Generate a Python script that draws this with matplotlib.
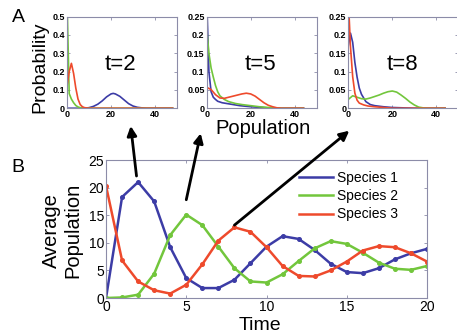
import matplotlib
matplotlib.use("Agg")
import matplotlib.pyplot as plt

plt.rcParams['font.family'] = ['Liberation Sans', 'DejaVu Sans']

# colours of the three species
c1 = '#3c3ca6'
c2 = '#72c63c'
c3 = '#ee4a2c'
spine_col = '#8c8ca8'

# bottom panel: average population over time
time = list(range(21))
s1 = [0, 18.3, 21.0, 17.5, 9.2, 3.6, 1.8, 1.8, 3.3, 6.3, 9.3, 11.2, 10.7, 8.7, 6.2, 4.7, 4.5, 5.4, 7.0, 8.1, 8.9]
s2 = [0, 0.1, 0.6, 4.4, 11.4, 15.1, 13.2, 9.3, 5.4, 3.0, 2.8, 4.3, 6.7, 9.0, 10.3, 9.8, 8.2, 6.4, 5.3, 5.1, 5.8]
s3 = [20.3, 6.8, 3.0, 1.4, 0.8, 2.4, 6.1, 10.4, 12.8, 12.0, 9.2, 5.8, 4.0, 3.9, 5.0, 6.6, 8.6, 9.4, 9.2, 8.1, 6.6]
labels = ['Species 1', 'Species 2', 'Species 3']

# top panels: population distributions at t=2, 5, 8
# t=2
p2_x1 = [0, 4, 8, 10, 12, 14, 16, 18, 20, 21, 22, 24, 26, 28, 30, 32, 34, 36, 48]
p2_y1 = [0, 0, 0, 0.003, 0.01, 0.022, 0.04, 0.062, 0.078, 0.081, 0.078, 0.065, 0.045, 0.025, 0.012, 0.005, 0.002, 0, 0]
p2_x2 = [0, 1, 2, 3, 4, 5, 6, 8, 48]
p2_y2 = [0.6, 0.08, 0.05, 0.03, 0.015, 0.007, 0.003, 0, 0]
p2_x3 = [0, 1, 2, 3, 4, 5, 6, 7, 8, 10, 48]
p2_y3 = [0.12, 0.2, 0.245, 0.19, 0.11, 0.05, 0.02, 0.008, 0.003, 0, 0]
# t=5
p5_x1 = [0, 1, 2, 3, 4, 5, 7, 10, 15, 20, 25, 30, 44]
p5_y1 = [0.3, 0.1, 0.045, 0.03, 0.024, 0.019, 0.015, 0.012, 0.007, 0.004, 0.002, 0, 0]
p5_x2 = [0, 1, 2, 3, 4, 5, 6, 8, 10, 13, 16, 20, 24, 28, 32, 44]
p5_y2 = [0.22, 0.15, 0.11, 0.085, 0.062, 0.045, 0.034, 0.024, 0.018, 0.013, 0.01, 0.007, 0.004, 0.002, 0, 0]
p5_x3 = [0, 2, 4, 6, 8, 10, 12, 14, 16, 18, 20, 22, 24, 26, 28, 30, 32, 34, 44]
p5_y3 = [0.057, 0.051, 0.037, 0.028, 0.027, 0.03, 0.033, 0.036, 0.039, 0.041, 0.039, 0.033, 0.024, 0.015, 0.008, 0.004, 0.001, 0, 0]
# t=8
p8_x1 = [0, 1, 2, 3, 4, 5, 6, 8, 10, 12, 16, 20, 30, 44]
p8_y1 = [0.17, 0.205, 0.18, 0.125, 0.085, 0.055, 0.038, 0.018, 0.01, 0.007, 0.004, 0.002, 0, 0]
p8_x2 = [0, 2, 4, 6, 8, 10, 12, 14, 16, 18, 20, 22, 24, 26, 28, 30, 32, 34, 36, 44]
p8_y2 = [0.024, 0.034, 0.03, 0.026, 0.025, 0.028, 0.032, 0.036, 0.041, 0.045, 0.047, 0.044, 0.036, 0.027, 0.017, 0.009, 0.003, 0.001, 0, 0]
p8_x3 = [0, 1, 2, 3, 4, 5, 7, 9, 12, 16, 20, 44]
p8_y3 = [0.3, 0.168, 0.086, 0.041, 0.022, 0.014, 0.009, 0.006, 0.004, 0.002, 0, 0]

panels = [
    ('t=2', [(p2_x1, p2_y1), (p2_x2, p2_y2), (p2_x3, p2_y3)], 0.5,
     [0, 0.1, 0.2, 0.3, 0.4, 0.5], ['0', '0.1', '0.2', '0.3', '0.4', '0.5']),
    ('t=5', [(p5_x1, p5_y1), (p5_x2, p5_y2), (p5_x3, p5_y3)], 0.25,
     [0, 0.05, 0.1, 0.15, 0.2, 0.25], ['0', '0.05', '0.1', '0.15', '0.2', '0.25']),
    ('t=8', [(p8_x1, p8_y1), (p8_x2, p8_y2), (p8_x3, p8_y3)], 0.25,
     [0, 0.05, 0.1, 0.15, 0.2, 0.25], ['0', '0.05', '0.1', '0.15', '0.2', '0.25']),
]
panel_left = [0.1466, 0.4523, 0.7621]

fig = plt.figure(figsize=(4.57, 3.33), dpi=100)

def style_axes(ax, size):
    for sp in ax.spines.values():
        sp.set_color(spine_col)
        sp.set_linewidth(0.8)
    ax.tick_params(direction='in', top=True, right=True, length=2.5,
                   width=0.6, color=spine_col, labelsize=size, pad=1.5)

top_axes = []
for (title, curves, ymax, yt, ytl), left in zip(panels, panel_left):
    ax = fig.add_axes([left, 0.675, 0.2407, 0.275])
    for (xs, ys), col in zip(curves, [c1, c2, c3]):
        ax.plot(xs, ys, color=col, lw=1.2)
    ax.set_xlim(0, 50)
    ax.set_ylim(0, ymax)
    ax.set_xticks([0, 20, 40])
    ax.set_xticklabels(['0', '20', '40'])
    ax.set_yticks(yt)
    ax.set_yticklabels(ytl)
    style_axes(ax, 6.5)
    for t in ax.get_xticklabels() + ax.get_yticklabels():
        t.set_fontweight('bold')
    ax.text(0.49, 0.48, title, transform=ax.transAxes, ha='center',
            va='center', fontsize=16)
    top_axes.append(ax)

top_axes[0].set_ylabel('Probability', fontsize=14)
top_axes[0].yaxis.set_label_coords(-0.17, 0.45)
top_axes[1].set_xlabel('Population', fontsize=14.5)
top_axes[1].xaxis.set_label_coords(0.51, -0.12)

# bottom panel
axb = fig.add_axes([0.232, 0.1051, 0.7024, 0.4144])
for ys, col, lab in zip([s1, s2, s3], [c1, c2, c3], labels):
    axb.plot(time, ys, color=col, lw=1.8, marker='o', ms=2.6, label=lab)
axb.set_xlim(0, 20)
axb.set_ylim(0, 25)
axb.set_xticks([0, 5, 10, 15, 20])
axb.set_yticks([0, 5, 10, 15, 20, 25])
style_axes(axb, 10)
axb.set_xlabel('Time', fontsize=14)
axb.xaxis.set_label_coords(0.48, -0.135)
axb.set_ylabel('Average\nPopulation', fontsize=14.5, linespacing=1.15)
axb.yaxis.set_label_coords(-0.075, 0.49)
axb.legend(loc='upper left', bbox_to_anchor=(0.585, 0.96), frameon=False,
           fontsize=10, handlelength=2.4, handletextpad=0.3,
           labelspacing=0.3, borderaxespad=0, markerscale=0)

# arrows from the bottom curves up to the distribution panels
arrows = [((130.7, 207.0), (1.9, 22.1)),
          ((200.7, 199.7), (5.0, 17.8)),
          ((349.3, 202.3), (8.0, 13.2))]
for head, tail in arrows:
    axb.annotate('', xy=head, xycoords='figure pixels', xytext=tail,
                 textcoords='data',
                 arrowprops=dict(arrowstyle='-|>', lw=2, color='k',
                                 mutation_scale=14, shrinkA=0, shrinkB=0))

fig.text(18.5 / 457, 1 - 17.5 / 333, 'A', fontsize=14, ha='center', va='center')
fig.text(17.5 / 457, 1 - 167 / 333, 'B', fontsize=14, ha='center', va='center')

fig.savefig('out.png', dpi=100)
